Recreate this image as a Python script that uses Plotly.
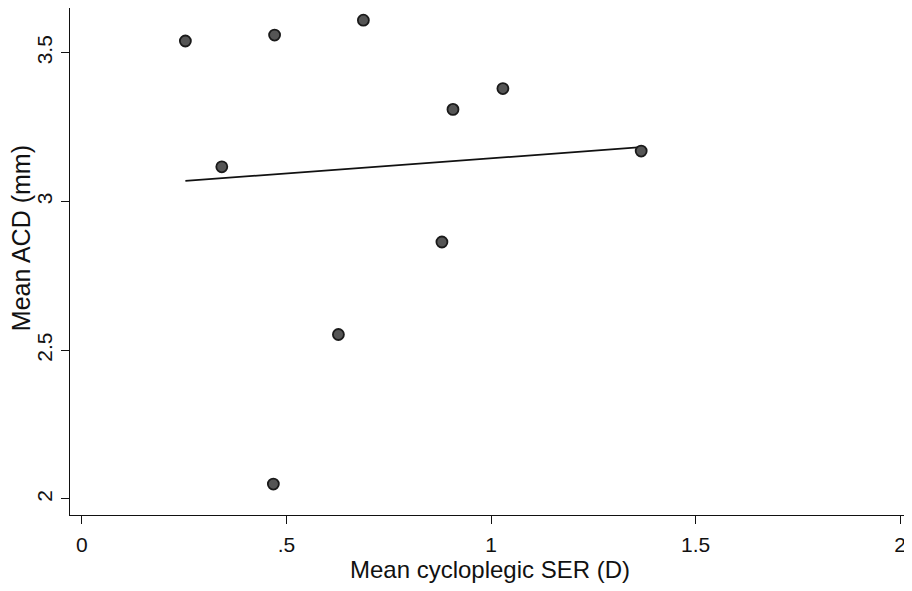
import numpy as np
import plotly.graph_objects as go

ser = [0.253, 0.342, 0.471, 0.468, 0.688, 0.627, 0.907, 0.880, 1.029, 1.367]
acd = [3.54, 3.117, 3.56, 2.05, 3.61, 2.553, 3.31, 2.864, 3.38, 3.17]
x_ticks = [0, 0.5, 1, 1.5, 2]
x_tick_labels = ["0", ".5", "1", "1.5", "2"]
y_ticks = [2, 2.5, 3, 3.5]
y_tick_labels = ["2", "2.5", "3", "3.5"]

slope, intercept = np.polyfit(ser, acd, 1)
fx = [min(ser), max(ser)]
fy = [intercept + slope * v for v in fx]

fig = go.Figure()
fig.add_trace(go.Scatter(x=fx, y=fy, mode="lines", line=dict(color="#111111", width=1.8),
                         showlegend=False, hoverinfo="skip"))
fig.add_trace(go.Scatter(x=ser, y=acd, mode="markers",
                         marker=dict(size=11, color="#555555", line=dict(color="#1a1a1a", width=1.8)),
                         showlegend=False))

family = "Liberation Sans, Arial, sans-serif"
tick_font = dict(family=family, size=21, color="#111111")
title_font = dict(family=family, size=24, color="#111111")
fig.update_layout(
    width=904, height=583,
    margin=dict(l=62, r=2, t=0, b=76),
    paper_bgcolor="white", plot_bgcolor="white",
    xaxis=dict(range=[-0.029, 2.024], tickvals=x_ticks, ticktext=x_tick_labels, tickfont=tick_font,
               showgrid=False, zeroline=False, showline=True, linecolor="#111111", linewidth=1.4,
               ticks="outside", ticklen=8, tickcolor="#111111", ticklabelstandoff=3,
               title=dict(text="Mean cycloplegic SER (D)", standoff=0, font=title_font)),
    yaxis=dict(range=[1.946, 3.651], tickvals=y_ticks, ticktext=y_tick_labels, tickangle=-90,
               tickfont=tick_font,
               showgrid=False, zeroline=False, showline=True, linecolor="#111111", linewidth=1.4,
               ticks="outside", ticklen=8, tickcolor="#111111", ticklabelstandoff=0),
    annotations=[dict(text="Mean ACD (mm)", textangle=-90, xref="paper", yref="paper",
                      x=0, y=0.546, xanchor="center", yanchor="middle", xshift=-49,
                      showarrow=False, font=dict(family=family, size=25, color="#111111"))],
)
fig.write_html("out.html")
